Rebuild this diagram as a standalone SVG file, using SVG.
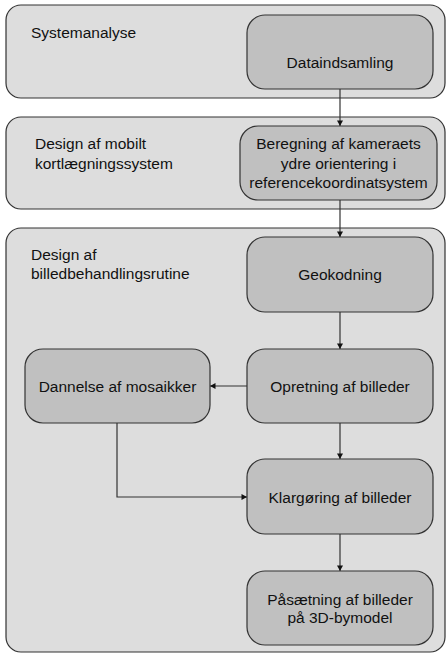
<svg xmlns="http://www.w3.org/2000/svg" width="446" height="653" viewBox="0 0 446 653">
<style>
.cont{fill:#dddddd;stroke:#333333;stroke-width:1.2}
.node{fill:#c0c0c0;stroke:#333333;stroke-width:1.2}
text{font-family:"Liberation Sans",Arial,sans-serif;font-size:15.5px;fill:#111111}
.c{text-anchor:middle}
.edge{fill:none;stroke:#333333;stroke-width:1.2;marker-end:url(#ah)}
</style>
<defs>
<marker id="ah" markerWidth="8" markerHeight="8" refX="6" refY="4" orient="auto" markerUnits="userSpaceOnUse">
<path d="M0.5,1 L6,4 L0.5,7 Z" fill="#111111"/>
</marker>
</defs>
<g id="sys">
<rect class="cont" x="6" y="5" width="439" height="93" rx="15"/>
<text x="31" y="38">Systemanalyse</text>
</g>
<g id="mob">
<rect class="cont" x="6" y="117" width="439" height="92" rx="15"/>
<text x="35" y="149">Design af mobilt</text>
<text x="35" y="169">kortlægningssystem</text>
</g>
<g id="bil">
<rect class="cont" x="6" y="228" width="439" height="424" rx="15"/>
<text x="31" y="260">Design af</text>
<text x="31" y="279">billedbehandlingsrutine</text>
</g>
<g id="connectors">
<path class="edge" d="M340,89 V126"/>
<path class="edge" d="M340,200 V237"/>
<path class="edge" d="M340,312 V349"/>
<path class="edge" d="M247,386 H210"/>
<path class="edge" d="M340,423 V459"/>
<path class="edge" d="M117,423 V497 H247"/>
<path class="edge" d="M340,534 V571"/>
</g>
<g id="n1">
<rect class="node" x="247" y="15" width="186" height="74" rx="18"/>
<text class="c" x="340" y="67.5">Dataindsamling</text>
</g>
<g id="n2">
<rect class="node" x="240" y="126" width="197" height="74" rx="18"/>
<text class="c" x="338.5" y="148.5">Beregning af kameraets</text>
<text class="c" x="338.5" y="168.5">ydre orientering i</text>
<text class="c" x="338.5" y="188">referencekoordinatsystem</text>
</g>
<g id="n3">
<rect class="node" x="247" y="237" width="186" height="75" rx="18"/>
<text class="c" x="340" y="279.5">Geokodning</text>
</g>
<g id="n4">
<rect class="node" x="247" y="349" width="186" height="74" rx="18"/>
<text class="c" x="340" y="391.5">Opretning af billeder</text>
</g>
<g id="n5">
<rect class="node" x="25" y="349" width="185" height="74" rx="18"/>
<text class="c" x="117.5" y="391.5">Dannelse af mosaikker</text>
</g>
<g id="n6">
<rect class="node" x="247" y="459" width="186" height="75" rx="18"/>
<text class="c" x="340" y="502.5">Klargøring af billeder</text>
</g>
<g id="n7">
<rect class="node" x="247" y="571" width="186" height="74" rx="18"/>
<text class="c" x="340" y="604.5">Påsætning af billeder</text>
<text class="c" x="340" y="622.5">på 3D-bymodel</text>
</g>
</svg>
